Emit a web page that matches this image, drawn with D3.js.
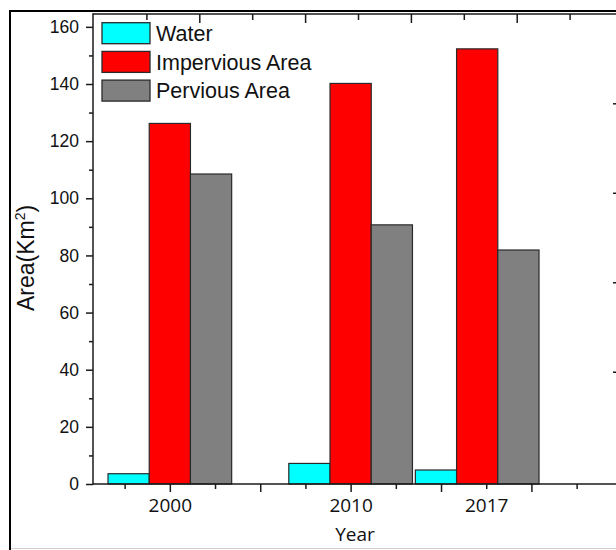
<!DOCTYPE html>
<html>
<head>
<meta charset="utf-8">
<script src="https://cdn.jsdelivr.net/npm/d3@7"></script>
<style>
  html, body { margin: 0; padding: 0; background: #ffffff; }
  svg { display: block; }
</style>
</head>
<body>
<svg id="chart" width="616" height="550"></svg>
<script>
// ---- data ----
const years = [2000, 2010, 2017];
const seriesNames = ["Water", "Impervious Area", "Pervious Area"];
const water = [3.6, 7.2, 4.9];
const impervious = [126.2, 140.2, 152.3];
const pervious = [108.5, 90.7, 81.9];
const yTickValues = [0, 20, 40, 60, 80, 100, 120, 140, 160];
const yMinorTickValues = [10, 30, 50, 70, 90, 110, 130, 150];
const xMajorTickValues = [2000, 2005, 2010, 2015, 2020];
const xMinorTickValues = [1997.5, 2002.5, 2007.5, 2012.5, 2017.5, 2022.5];
const xLabelTickValues = [2000, 2010, 2017.5];
const xLabelTexts = ["2000", "2010", "2017"];

// ---- layout / style ----
const colors = ["#00FFFF", "#FF0000", "#808080"];
const series = [water, impervious, pervious];
const svg = d3.select("#chart");
const plotLeft = 93, plotTop = 14, plotBottom = 484;
const barYears = 2.28; // bar width in x-units

const x = d3.scaleLinear().domain([1995.75, 2024.75]).range([plotLeft, 617.3]);
const y = d3.scaleLinear().domain([0, 164.5]).range([plotBottom, plotTop]);

// outer frame
svg.append("rect").attr("x", 0).attr("y", 0).attr("width", 616).attr("height", 550).attr("fill", "#ffffff");
svg.append("line").attr("x1", 10).attr("x2", 10).attr("y1", 10).attr("y2", 550)
  .attr("stroke", "#000").attr("stroke-width", 2);
svg.append("line").attr("x1", 9).attr("x2", 616).attr("y1", 11).attr("y2", 11)
  .attr("stroke", "#000").attr("stroke-width", 2);
svg.append("line").attr("x1", 11).attr("x2", 616).attr("y1", 548.5).attr("y2", 548.5)
  .attr("stroke", "#cfcfcf").attr("stroke-width", 1);

// bars
const bw = x(2000 + barYears) - x(2000);
series.forEach((vals, si) => {
  svg.append("g").selectAll("rect").data(years).join("rect")
    .attr("x", (d) => x(d) + (si - 1) * bw - bw / 2)
    .attr("y", (d, i) => y(vals[i]))
    .attr("width", bw)
    .attr("height", (d, i) => y(0) - y(vals[i]))
    .attr("fill", colors[si])
    .attr("stroke", "#2a2a2a")
    .attr("stroke-width", 1.2);
});

const axisColor = "#1a1a1a";
function styleAxis(g) {
  g.select(".domain").remove();
  g.selectAll(".tick line").attr("stroke", axisColor).attr("stroke-width", 1.5);
}

// left axis
const yAxis = svg.append("g").attr("transform", `translate(${plotLeft},0)`)
  .call(d3.axisLeft(y).tickValues(yTickValues).tickSize(7).tickPadding(7).tickFormat(d3.format("d")));
styleAxis(yAxis);
yAxis.selectAll("text").attr("font-family", "Liberation Sans, Arial, sans-serif")
  .attr("font-size", 17.5).attr("fill", "#111");
const yMinor = svg.append("g").attr("transform", `translate(${plotLeft},0)`)
  .call(d3.axisLeft(y).tickValues(yMinorTickValues).tickSize(4).tickFormat(""));
styleAxis(yMinor);

// bottom axis
const xMajor = svg.append("g").attr("transform", `translate(0,${plotBottom})`)
  .call(d3.axisBottom(x).tickValues(xMajorTickValues).tickSize(8).tickFormat(""));
styleAxis(xMajor);
const xMinor = svg.append("g").attr("transform", `translate(0,${plotBottom})`)
  .call(d3.axisBottom(x).tickValues(xMinorTickValues).tickSize(5).tickFormat(""));
styleAxis(xMinor);
const xLabels = svg.append("g").attr("transform", `translate(0,${plotBottom})`)
  .call(d3.axisBottom(x).tickValues(xLabelTickValues).tickSize(0).tickPadding(15)
    .tickFormat((d, i) => xLabelTexts[i]));
xLabels.select(".domain").remove();
xLabels.selectAll("text").attr("font-family", "Open Sans, sans-serif")
  .attr("font-size", 19).attr("fill", "#111");

// top axis (inward ticks, no labels)
const xTop = d3.scaleLinear().domain([0, 5]).range([plotLeft + 0.5, 622.5]);
const topMajor = svg.append("g").attr("transform", `translate(0,${plotTop})`)
  .call(d3.axisBottom(xTop).tickValues([1, 2, 3, 4]).tickSize(9).tickFormat(""));
styleAxis(topMajor);
const topMinor = svg.append("g").attr("transform", `translate(0,${plotTop})`)
  .call(d3.axisBottom(xTop).tickValues([0.5, 1.5, 2.5, 3.5, 4.5]).tickSize(6).tickFormat(""));
styleAxis(topMinor);

// right side inward tick marks (axis itself lies off the picture)
const yRight = d3.scaleLinear().domain([0, 4]).range([461.2, 103.3]);
const rightAxis = svg.append("g").attr("transform", `translate(617,0)`)
  .call(d3.axisLeft(yRight).tickValues([1, 2, 3, 4]).tickSize(4).tickFormat(""));
styleAxis(rightAxis);

// axis lines (frame)
svg.append("line").attr("x1", plotLeft).attr("x2", plotLeft).attr("y1", plotTop - 0.75).attr("y2", plotBottom + 0.75)
  .attr("stroke", axisColor).attr("stroke-width", 1.5);
svg.append("line").attr("x1", plotLeft).attr("x2", 616).attr("y1", plotTop).attr("y2", plotTop)
  .attr("stroke", axisColor).attr("stroke-width", 1.5);
svg.append("line").attr("x1", plotLeft).attr("x2", 616).attr("y1", plotBottom).attr("y2", plotBottom)
  .attr("stroke", axisColor).attr("stroke-width", 1.5);

// axis titles
const yTitle = svg.append("text")
  .attr("transform", `translate(34,258) rotate(-90)`)
  .attr("text-anchor", "middle")
  .attr("font-family", "Liberation Sans, Arial, sans-serif")
  .attr("font-size", 23).attr("fill", "#111");
yTitle.append("tspan").text("Area(Km");
yTitle.append("tspan").attr("dy", -9).attr("font-size", 14).text("2");
yTitle.append("tspan").attr("dy", 9).text(")");

svg.append("text").attr("x", 355).attr("y", 541)
  .attr("text-anchor", "middle")
  .attr("font-family", "Open Sans, sans-serif")
  .attr("font-size", 19).attr("fill", "#111").text("Year");

// legend
const legend = svg.append("g");
seriesNames.forEach((name, i) => {
  const yy = 22.7 + i * 28.7;
  legend.append("rect").attr("x", 102).attr("y", yy).attr("width", 48).attr("height", 21)
    .attr("fill", colors[i]).attr("stroke", "#2a2a2a").attr("stroke-width", 1.3);
  legend.append("text").attr("x", 156).attr("y", yy + 10.5).attr("dy", "0.36em")
    .attr("font-family", "Liberation Sans, Arial, sans-serif")
    .attr("font-size", 21.5).attr("fill", "#111").text(name);
});
</script>
</body>
</html>
